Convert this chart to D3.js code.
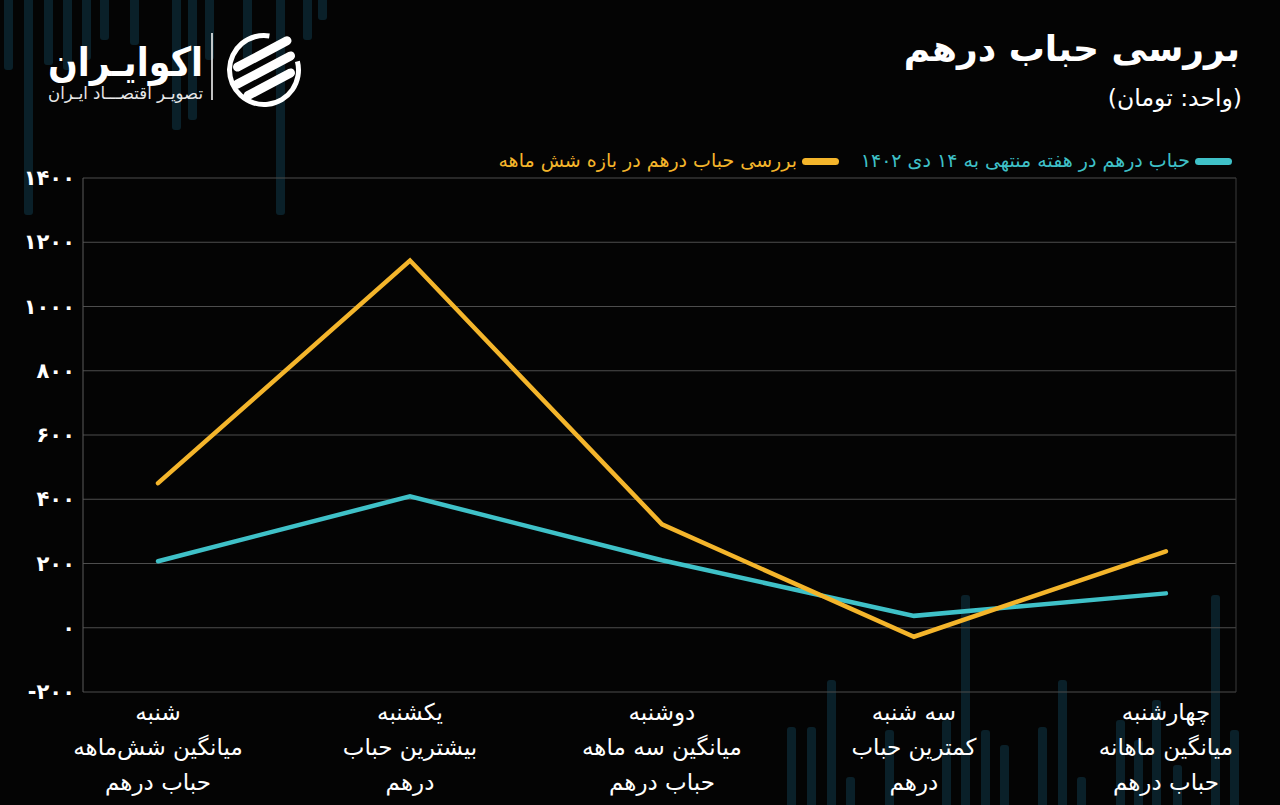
<!DOCTYPE html>
<html lang="fa">
<head>
<meta charset="utf-8">
<script src="https://cdn.jsdelivr.net/npm/d3@7/dist/d3.min.js"></script>
<style>
    html, body { margin: 0; padding: 0; background: #040404; }
    svg { display: block; }
    text { font-family: "DejaVu Sans", "Noto Sans", sans-serif; }
</style>
</head>
<body>
<div id="chart"></div>
<script>
// Données du graphique
const categories = ['شنبه', 'یکشنبه', 'دوشنبه', 'سه شنبه', 'چهارشنبه'];
const subLabels1 = ['میانگین شش‌ماهه', 'بیشترین حباب', 'میانگین سه ماهه', 'کمترین حباب', 'میانگین ماهانه'];
const subLabels2 = ['حباب درهم', 'درهم', 'حباب درهم', 'درهم', 'حباب درهم'];
const weekValues = [207, 409, 210, 37, 107];
const sixMonthValues = [450, 1143, 322, -28, 238];
const yTicks = [-200, 0, 200, 400, 600, 800, 1000, 1200, 1400];
const seriesNames = ['حباب درهم در هفته منتهی به ۱۴ دی ۱۴۰۲', 'بررسی حباب درهم در بازه شش ماهه'];
const seriesColors = ['#3fc1c8', '#f4b52b'];

// décor de fond (barres verticales)
const decoTop = [[4, 70], [24, 215], [44, 65], [63, 70], [82, 60], [100, 40], [130, 45], [172, 130], [188, 120], [205, 60], [243, 60], [276, 215], [303, 40], [318, 20]];
const decoBottom = [[791, 727], [811, 727], [831, 680], [850, 777], [889, 730], [946, 720], [965, 595], [985, 730], [1004, 745], [1042, 727], [1062, 680], [1081, 777], [1120, 720], [1138, 740], [1156, 700], [1177, 765], [1215, 595], [1234, 730]];

const toFa = s => String(s).replace(/\d/g, d => '۰۱۲۳۴۵۶۷۸۹'[d]).replace('−', '-');

const W = 1280, H = 805;
const plotLeft = 83, plotRight = 1236, plotTop = 178, plotBottom = 692;

const svg = d3.select('#chart').append('svg')
    .attr('width', W).attr('height', H);

svg.append('rect').attr('width', W).attr('height', H).attr('fill', '#040404');

// barres décoratives
const deco = svg.append('g').attr('fill', '#0a2029');
decoTop.forEach(([bx, h]) => {
    deco.append('rect').attr('x', bx).attr('y', -6).attr('width', 9).attr('height', h + 6).attr('rx', 3);
});
decoBottom.forEach(([bx, by]) => {
    deco.append('rect').attr('x', bx - 4).attr('y', by).attr('width', 9).attr('height', H - by + 6).attr('rx', 3);
});

// Échelles
const x = d3.scalePoint().domain(categories).range([plotLeft, plotRight]).padding(0.288).align(0.517);
const y = d3.scaleLinear().domain([-200, 1400]).range([plotBottom, plotTop]);

// grille
svg.append('g')
    .selectAll('line')
    .data(yTicks)
    .join('line')
    .attr('x1', plotLeft).attr('x2', plotRight)
    .attr('y1', d => y(d)).attr('y2', d => y(d))
    .attr('stroke', '#4d4d4d').attr('stroke-width', 1);

svg.append('line').attr('x1', plotLeft).attr('x2', plotLeft).attr('y1', plotTop).attr('y2', plotBottom)
    .attr('stroke', '#5a5a5a');
svg.append('line').attr('x1', plotRight).attr('x2', plotRight).attr('y1', plotTop).attr('y2', plotBottom)
    .attr('stroke', '#3a3a3a');

// axe Y
const yAxis = d3.axisLeft(y).tickValues(yTicks).tickSize(0).tickPadding(8)
    .tickFormat(d => toFa(d));
const gy = svg.append('g').attr('transform', `translate(${plotLeft},0)`).call(yAxis);
gy.select('.domain').remove();
gy.selectAll('text')
    .attr('fill', '#ffffff')
    .style('font-size', '21px')
    .style('font-weight', 'bold');

// axe X (trois lignes)
const gx = svg.append('g');
categories.forEach((c, i) => {
    const t = gx.append('text')
        .attr('x', x(c))
        .attr('text-anchor', 'middle')
        .attr('fill', '#ffffff')
        .style('font-size', '23px');
    [c, subLabels1[i], subLabels2[i]].forEach((lbl, j) => {
        t.append('tspan').attr('x', x(c)).attr('y', 720 + j * 35).text(lbl);
    });
});

// lignes
const line = d3.line()
    .x((d, i) => x(categories[i]))
    .y(d => y(d));

[weekValues, sixMonthValues].forEach((vals, k) => {
    svg.append('path')
        .datum(vals)
        .attr('d', line)
        .attr('fill', 'none')
        .attr('stroke', seriesColors[k])
        .attr('stroke-width', 4.5)
        .attr('stroke-linecap', 'round')
        .attr('stroke-linejoin', 'miter');
});

// légende
const legendX = [1232, 839];
seriesNames.forEach((name, k) => {
    svg.append('rect')
        .attr('x', legendX[k] - 37).attr('y', 158)
        .attr('width', 37).attr('height', 7).attr('rx', 3.5)
        .attr('fill', seriesColors[k]);
    svg.append('text')
        .attr('x', legendX[k] - 42).attr('y', 167)
        .attr('text-anchor', 'end')
        .attr('fill', seriesColors[k])
        .style('font-size', '19px')
        .text(name);
});

// titre
svg.append('text')
    .attr('x', 1240).attr('y', 61)
    .attr('text-anchor', 'end')
    .attr('fill', '#ffffff')
    .style('font-size', '36px')
    .style('font-weight', 'bold')
    .text('بررسی حباب درهم');

svg.append('text')
    .attr('x', 1242).attr('y', 106)
    .attr('text-anchor', 'end')
    .attr('fill', '#ffffff')
    .style('font-size', '23.5px')
    .text('(واحد: تومان)');

// logo
const logo = svg.append('g');
logo.append('text')
    .attr('x', 203).attr('y', 76)
    .attr('text-anchor', 'end')
    .attr('fill', '#ffffff')
    .style('font-size', '40px')
    .style('font-weight', 'bold')
    .attr('textLength', 155)
    .attr('lengthAdjust', 'spacingAndGlyphs')
    .text('اکوایـران');
logo.append('text')
    .attr('x', 203).attr('y', 99)
    .attr('text-anchor', 'end')
    .attr('fill', '#e8e8e8')
    .style('font-size', '17px')
    .attr('textLength', 155)
    .attr('lengthAdjust', 'spacingAndGlyphs')
    .text('تصویـر اقتصـــاد ایـران');
logo.append('line')
    .attr('x1', 212).attr('x2', 212).attr('y1', 33).attr('y2', 100)
    .attr('stroke', '#ffffff').attr('stroke-width', 1.5);

// icône : anneau ouvert + trois bandes obliques
const icon = logo.append('g').attr('transform', 'translate(264,70)');
icon.append('path')
    .attr('d', d3.arc()({ innerRadius: 32, outerRadius: 37, startAngle: Math.PI * 0.42, endAngle: Math.PI * 2.05 }))
    .attr('fill', '#ffffff');
const ang = -28 * Math.PI / 180;
const dx = Math.cos(ang), dy = Math.sin(ang);
const nx = -dy, ny = dx;
[[-15, -22, 34], [0, -30, 30], [15, -26, 22]].forEach(([o, a, b]) => {
    icon.append('line')
        .attr('x1', o * nx + a * dx).attr('y1', o * ny + a * dy)
        .attr('x2', o * nx + b * dx).attr('y2', o * ny + b * dy)
        .attr('stroke', '#ffffff').attr('stroke-width', 9)
        .attr('stroke-linecap', 'round');
});
</script>
</body>
</html>
